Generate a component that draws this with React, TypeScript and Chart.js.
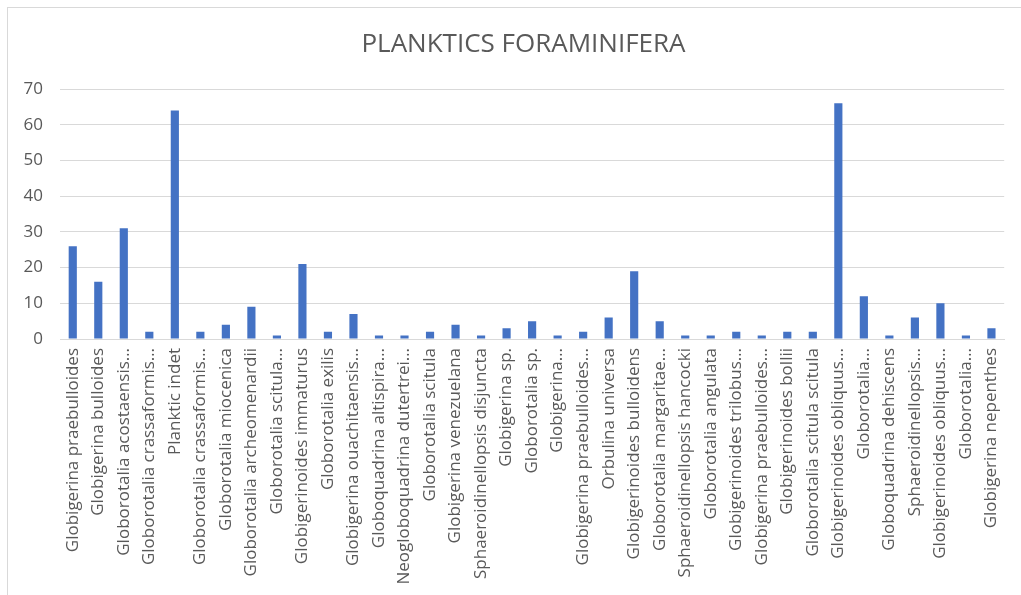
import React, { useEffect, useRef } from "react";
import { Chart, registerables } from "chart.js";

Chart.register(...registerables);

const TITLE = "PLANKTICS FORAMINIFERA";

const species: string[] = [
  "Globigerina praebulloides",
  "Globigerina bulloides",
  "Globorotalia acostaensis…",
  "Globorotalia crassaformis…",
  "Planktic indet",
  "Globorotalia crassaformis…",
  "Globorotalia miocenica",
  "Globorotalia archeomenardii",
  "Globorotalia scitula…",
  "Globigerinoides immaturus",
  "Globorotalia exilis",
  "Globigerina ouachitaensis…",
  "Globoquadrina altispira…",
  "Neogloboquadrina dutertrei…",
  "Globorotalia scitula",
  "Globigerina venezuelana",
  "Sphaeroidinellopsis disjuncta",
  "Globigerina sp.",
  "Globorotalia sp.",
  "Globigerina…",
  "Globigerina praebulloides…",
  "Orbulina universa",
  "Globigerinoides bulloidens",
  "Globorotalia margaritae…",
  "Sphaeroidinellopsis hancocki",
  "Globorotalia angulata",
  "Globigerinoides trilobus…",
  "Globigerina praebulloides…",
  "Globigerinoides bollii",
  "Globorotalia scitula scitula",
  "Globigerinoides obliquus…",
  "Globorotalia…",
  "Globoquadrina dehiscens",
  "Sphaeroidinellopsis…",
  "Globigerinoides obliquus…",
  "Globorotalia…",
  "Globigerina nepenthes",
];

const counts: number[] = [
  26, 16, 31, 2, 64, 2, 4, 9, 1, 21, 2, 7, 1, 1, 2, 4, 1, 3, 5, 1, 2, 6, 19, 5,
  1, 1, 2, 1, 2, 2, 66, 12, 1, 6, 10, 1, 3,
];

const yTicks = { min: 0, max: 70, step: 10 };

const FONT = "'Open Sans', Lato, sans-serif";
const TEXT_GREY = "#595959";
const GRID_GREY = "#d9d9d9";
const BAR_BLUE = "#4472c4";

// The chart frame runs past the right edge of the canvas, so the heading is
// centred on the frame rather than on the canvas.
const headingPlugin = {
  id: "frameHeading",
  afterDraw(chart: any) {
    const { ctx, width } = chart;
    ctx.save();
    ctx.font = `normal 26px ${FONT}`;
    ctx.fillStyle = TEXT_GREY;
    ctx.textAlign = "center";
    ctx.textBaseline = "middle";
    ctx.fillText(TITLE, width / 2 + 13, 45);
    ctx.restore();
  },
};

export default function App() {
  const canvasRef = useRef<HTMLCanvasElement | null>(null);

  useEffect(() => {
    const canvas = canvasRef.current;
    if (!canvas) return;
    const chart = new Chart(canvas, {
      type: "bar",
      data: {
        labels: species,
        datasets: [
          {
            data: counts,
            backgroundColor: BAR_BLUE,
            barPercentage: 0.32,
            categoryPercentage: 1,
          },
        ],
      },
      options: {
        animation: false,
        responsive: false,
        layout: { padding: { left: 0, right: 11, top: 89, bottom: 0 } },
        plugins: {
          legend: { display: false },
          tooltip: { enabled: false },
          title: { display: false },
        },
        scales: {
          x: {
            grid: { display: false, drawTicks: false },
            border: { display: true, color: GRID_GREY },
            ticks: {
              color: TEXT_GREY,
              font: { family: FONT, size: 17 },
              minRotation: 90,
              maxRotation: 90,
              autoSkip: false,
              padding: 9,
            },
            afterFit: (scale: any) => {
              scale.height = 256;
            },
          },
          y: {
            min: yTicks.min,
            max: yTicks.max,
            grid: { color: GRID_GREY, drawTicks: false, lineWidth: 1 },
            border: { display: false },
            ticks: {
              stepSize: yTicks.step,
              color: TEXT_GREY,
              font: { family: FONT, size: 17 },
              padding: 17,
            },
            afterFit: (scale: any) => {
              scale.width = 60;
            },
          },
        },
      },
      plugins: [headingPlugin],
    });
    return () => chart.destroy();
  }, []);

  return (
    <div
      style={{
        position: "fixed",
        left: 0,
        top: 0,
        width: 1021,
        height: 595,
        background: "#ffffff",
        overflow: "hidden",
      }}
    >
      <div
        style={{
          position: "absolute",
          left: 7,
          top: 7,
          width: 1030,
          height: 600,
          borderLeft: `1px solid ${GRID_GREY}`,
          borderTop: `1px solid ${GRID_GREY}`,
        }}
      />
      <canvas
        ref={canvasRef}
        width={1021}
        height={595}
        style={{ position: "absolute", left: 0, top: 0 }}
      />
    </div>
  );
}
